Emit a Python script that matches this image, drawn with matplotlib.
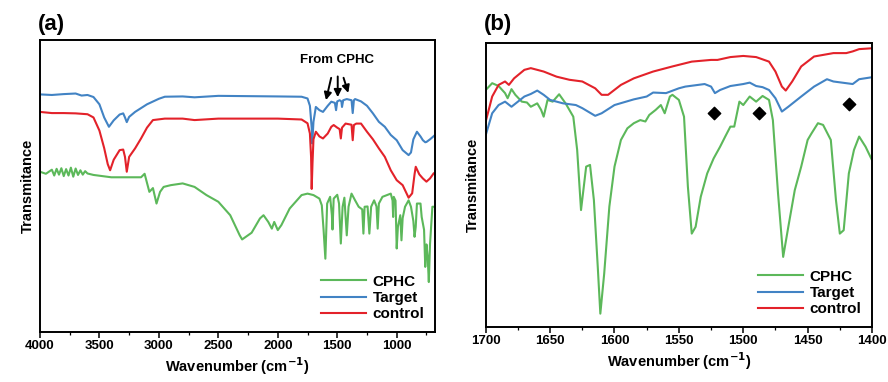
import numpy as np
import matplotlib.pyplot as plt
from matplotlib.ticker import MultipleLocator

plt.rcParams['font.family'] = ['Liberation Sans', 'DejaVu Sans']
plt.rcParams['font.weight'] = 'bold'

# ---- panel (a): full range spectra (wavenumber, transmittance a.u.) ----
a_cphc_x = [4000, 3950, 3900, 3880, 3860, 3840, 3820, 3800, 3780, 3760, 3740, 3720, 3700, 3680,
            3660, 3640, 3620, 3600, 3550, 3400, 3150, 3120, 3080, 3050, 3020, 2990, 2960, 2900,
            2800, 2700, 2600, 2500, 2400, 2320, 2300, 2220, 2150, 2120, 2080, 2050, 2030, 2000,
            1970, 1900, 1850, 1800, 1750, 1700, 1650, 1630, 1615, 1600, 1585, 1560, 1545, 1540,
            1530, 1500, 1485, 1470, 1455, 1440, 1420, 1405, 1380, 1350, 1320, 1290, 1280, 1270,
            1245, 1230, 1215, 1190, 1170, 1160, 1150, 1120, 1050, 1035, 1030, 1025, 1010, 1000,
            990, 970, 960, 950, 930, 900, 880, 860, 850, 840, 830, 800, 790, 770, 760, 750,
            740, 730, 720, 700, 680]
a_cphc_y = [54.9, 54.2, 55.6, 53.6, 55.9, 53.9, 56.1, 53.4, 55.8, 53.6, 56.3, 53.2, 56.0, 53.8,
            55.4, 53.9, 55.1, 54.3, 53.8, 53.0, 53.0, 54.2, 48.0, 49.3, 44.0, 48.0, 49.7, 50.3,
            50.9, 49.7, 46.9, 44.6, 40.0, 33.1, 31.7, 34.0, 38.9, 40.0, 37.7, 35.4, 37.7, 34.9,
            36.6, 42.3, 44.6, 46.9, 47.4, 46.9, 45.7, 43.4, 35.0, 25.1, 44.0, 46.3, 40.0, 35.1,
            45.7, 47.0, 44.0, 30.3, 42.9, 46.0, 33.1, 42.9, 47.4, 45.1, 42.9, 42.0, 33.7, 42.9,
            43.0, 33.7, 42.9, 45.1, 43.0, 35.4, 44.0, 46.3, 47.4, 45.0, 39.4, 46.3, 45.0, 28.6,
            36.0, 40.0, 31.4, 39.0, 42.9, 45.1, 42.9, 38.0, 32.6, 36.0, 44.0, 44.0, 39.4, 35.0,
            22.3, 30.0, 26.0, 17.1, 30.0, 42.9, 42.9]

a_target_x = [4000, 3900, 3800, 3700, 3650, 3600, 3550, 3500, 3460, 3420, 3380, 3330, 3300,
              3285, 3270, 3250, 3200, 3100, 3000, 2950, 2800, 2700, 2500, 2000, 1800, 1750,
              1730, 1715, 1710, 1700, 1680, 1650, 1620, 1580, 1550, 1520, 1510, 1500, 1480,
              1465, 1460, 1450, 1420, 1380, 1370, 1360, 1350, 1300, 1250, 1200, 1150, 1100,
              1050, 1000, 950, 900, 880, 860, 830, 800, 780, 760, 750, 720, 680]
a_target_y = [81.4, 81.2, 81.5, 81.7, 81.0, 81.2, 80.5, 78.0, 73.5, 70.3, 72.5, 74.5, 74.9,
              73.5, 71.9, 73.7, 75.4, 78.0, 79.9, 80.6, 80.7, 80.4, 80.9, 80.7, 80.6, 80.0,
              77.5, 70.0, 64.6, 72.0, 77.1, 76.0, 75.4, 77.5, 78.9, 78.5, 76.0, 79.0, 79.4,
              79.0, 77.1, 79.4, 79.8, 79.4, 75.0, 79.4, 79.8, 79.0, 77.5, 74.9, 72.0, 70.3,
              67.5, 65.7, 62.3, 60.6, 61.5, 66.0, 68.6, 67.0, 65.7, 65.0, 65.1, 66.0, 67.4]

a_control_x = [4000, 3900, 3800, 3700, 3600, 3550, 3500, 3460, 3430, 3410, 3380, 3330, 3300,
               3285, 3270, 3250, 3200, 3150, 3100, 3050, 2950, 2800, 2700, 2500, 2000, 1800,
               1750, 1730, 1720, 1715, 1708, 1700, 1680, 1650, 1620, 1580, 1550, 1530, 1500,
               1480, 1470, 1460, 1430, 1380, 1370, 1360, 1340, 1300, 1250, 1200, 1150, 1100,
               1050, 1000, 950, 900, 870, 850, 840, 810, 780, 750, 720, 690]
a_control_y = [75.4, 75.0, 75.0, 74.9, 74.6, 73.5, 69.0, 63.0, 57.5, 55.4, 59.0, 62.3, 62.5,
               60.0, 54.9, 60.0, 62.9, 66.3, 70.0, 72.6, 73.1, 73.1, 72.6, 73.1, 73.1, 72.8,
               71.5, 68.0, 60.0, 49.0, 58.0, 66.0, 68.6, 67.0, 66.3, 68.0, 70.3, 70.9, 70.0,
               69.5, 66.3, 70.0, 71.4, 71.0, 65.7, 70.9, 71.4, 71.4, 68.6, 66.0, 62.9, 60.0,
               55.4, 52.0, 50.3, 46.0, 47.5, 54.0, 56.6, 54.0, 52.6, 51.5, 52.6, 54.3]

# ---- panel (b): 1700-1400 zoom ----
b_cphc_x = [1700, 1695, 1690, 1685, 1683, 1680, 1677, 1672, 1668, 1665, 1660, 1657, 1655, 1652,
            1648, 1643, 1638, 1632, 1629, 1626, 1622, 1619, 1616, 1613, 1611, 1608, 1604, 1600,
            1595, 1590, 1585, 1580, 1576, 1573, 1568, 1564, 1561, 1557, 1555, 1550, 1546, 1543,
            1540, 1537, 1533, 1528, 1523, 1518, 1514, 1510, 1507, 1503, 1500, 1495, 1490, 1485,
            1480, 1477, 1473, 1469, 1465, 1460, 1455, 1450, 1447, 1442, 1438, 1432, 1428, 1425,
            1422, 1418, 1414, 1410, 1405, 1400]
b_cphc_y = [83.5, 85.9, 84.9, 82.4, 80.6, 83.8, 81.8, 79.4, 79.1, 77.6, 78.8, 76.5, 74.1, 80.0,
            79.4, 82.0, 78.8, 74.1, 62.4, 41.2, 56.5, 57.1, 44.7, 21.2, 4.7, 18.8, 42.4, 56.5,
            65.9, 70.0, 71.8, 72.9, 72.4, 74.7, 76.5, 78.2, 75.3, 81.2, 81.8, 80.0, 74.1, 49.4,
            32.9, 35.3, 45.9, 54.1, 59.4, 63.5, 67.1, 70.6, 70.6, 79.4, 78.2, 81.2, 79.4, 81.4,
            80.0, 72.9, 47.1, 24.7, 35.3, 48.2, 56.5, 65.9, 68.2, 71.8, 71.2, 65.9, 44.7, 32.9,
            34.1, 54.1, 62.4, 67.1, 63.5, 58.8]

b_target_x = [1700, 1695, 1690, 1685, 1680, 1675, 1670, 1665, 1660, 1655, 1650, 1640, 1630, 1625,
              1615, 1610, 1600, 1585, 1575, 1570, 1560, 1550, 1545, 1530, 1525, 1522, 1518, 1510,
              1500, 1495, 1490, 1485, 1480, 1475, 1470, 1465, 1455, 1445, 1435, 1430, 1420, 1415,
              1410, 1400]
b_target_y = [67.6, 75.3, 78.2, 79.4, 77.6, 79.4, 81.2, 82.1, 83.3, 81.8, 80.0, 78.8, 78.2, 77.1,
              74.4, 75.3, 78.2, 80.2, 81.2, 82.6, 82.4, 84.1, 84.7, 85.6, 84.7, 82.4, 83.5, 84.9,
              85.6, 86.1, 84.9, 84.5, 83.5, 80.6, 75.9, 77.6, 81.2, 84.7, 87.3, 86.5, 85.9, 85.6,
              87.3, 88.0]

b_control_x = [1700, 1695, 1690, 1685, 1682, 1678, 1670, 1665, 1655, 1645, 1635, 1625, 1615, 1610,
               1605, 1595, 1585, 1570, 1555, 1540, 1525, 1520, 1510, 1500, 1490, 1480, 1475, 1470,
               1467, 1462, 1455, 1445, 1430, 1420, 1415, 1410, 1400]
b_control_y = [72.4, 81.2, 85.3, 86.5, 85.3, 87.6, 90.6, 91.2, 90.0, 88.2, 87.1, 86.5, 84.1, 81.8,
               81.8, 85.3, 87.6, 90.0, 91.8, 93.5, 94.1, 94.1, 95.1, 95.5, 95.1, 93.5, 90.0, 84.7,
               83.3, 86.5, 91.8, 95.3, 96.5, 96.5, 97.1, 97.9, 98.2]

diamond_x = [1523, 1488, 1418]
diamond_y = [75.3, 75.3, 78.6]

green = '#5cb85a'
blue = '#4283c4'
red = '#e3222a'

fig = plt.figure(figsize=(8.88, 3.82), dpi=100)
ax1 = fig.add_axes([0.045, 0.131, 0.445, 0.764])
ax2 = fig.add_axes([0.547, 0.144, 0.435, 0.743])

for ax, sets in [(ax1, [(a_cphc_x, a_cphc_y, green, 'CPHC'),
                        (a_target_x, a_target_y, blue, 'Target'),
                        (a_control_x, a_control_y, red, 'control')]),
                 (ax2, [(b_cphc_x, b_cphc_y, green, 'CPHC'),
                        (b_target_x, b_target_y, blue, 'Target'),
                        (b_control_x, b_control_y, red, 'control')])]:
    for x, y, c, lab in sets:
        ax.plot(x, y, color=c, lw=1.5, label=lab)
    ax.set_ylim(0, 100)
    ax.set_yticks([])
    ax.set_ylabel('Transmitance', fontsize=10.5, fontweight='bold')
    ax.set_xlabel('Wavenumber (cm$^{\\mathbf{-1}}$)', fontsize=10.5, fontweight='bold', labelpad=2)
    ax.tick_params(axis='x', which='major', labelsize=9.5, length=4, width=1.1, pad=2)
    ax.tick_params(axis='x', which='minor', length=2.5, width=0.9)
    for s in ax.spines.values():
        s.set_linewidth(1.4)
    leg = ax.legend(loc='lower right', frameon=False, fontsize=11, handlelength=3.0,
                    handletextpad=0.4, labelspacing=0.15, borderaxespad=0.3)
    for t in leg.get_texts():
        t.set_fontweight('bold')

ax1.set_xlim(4000, 677)
ax1.xaxis.set_major_locator(MultipleLocator(500))
ax1.xaxis.set_minor_locator(MultipleLocator(250))
ax2.set_xlim(1700, 1400)
ax2.xaxis.set_major_locator(MultipleLocator(50))
ax2.xaxis.set_minor_locator(MultipleLocator(25))
for ax in (ax1, ax2):
    for lbl in ax.get_xticklabels():
        lbl.set_fontweight('bold')

ax2.scatter(diamond_x, diamond_y, marker='D', s=40, color='black', zorder=5)

ax1.text(1500, 93.1, 'From CPHC', ha='center', va='center', fontsize=9.5, fontweight='bold')
arrow_tail = [(1546, 88.0), (1496, 88.5), (1454, 88.0)]
arrow_head = [(1600, 78.5), (1496, 79.5), (1400, 81.0)]
for (tx, ty), (hx, hy) in zip(arrow_tail, arrow_head):
    ax1.annotate('', xy=(hx, hy), xytext=(tx, ty),
                 arrowprops=dict(arrowstyle='-|>', color='black', lw=1.4, mutation_scale=11))

fig.text(0.043, 0.935, '(a)', fontsize=16, fontweight='bold', va='center')
fig.text(0.545, 0.935, '(b)', fontsize=16, fontweight='bold', va='center')

fig.savefig('out.png', dpi=100)
